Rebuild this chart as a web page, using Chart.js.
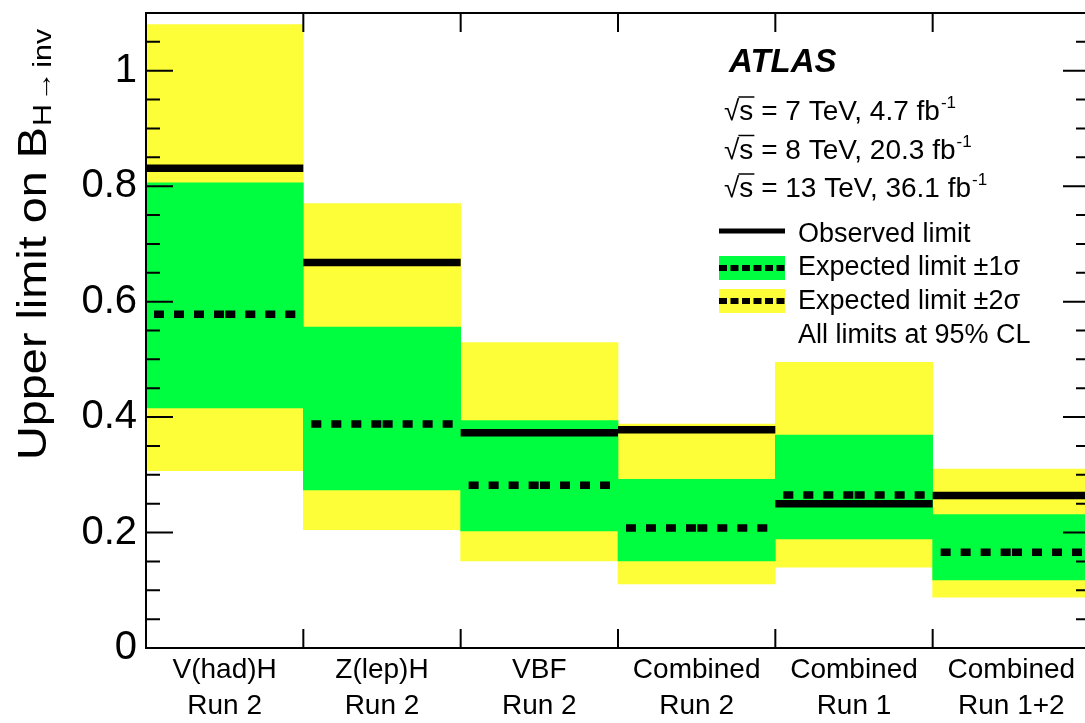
<!DOCTYPE html>
<html>
<head>
<meta charset="utf-8">
<script src="https://cdn.jsdelivr.net/npm/chart.js@4"></script>
<style>
  html, body { margin: 0; padding: 0; overflow: hidden; background: #fff; }
  #wrap { position: relative; width: 1100px; height: 723px; }
</style>
</head>
<body>
<div id="wrap"><canvas id="chart" width="1100" height="723"></canvas></div>
<script>
// values
const categories = [['V(had)H', 'Run 2'], ['Z(lep)H', 'Run 2'], ['VBF', 'Run 2'],
                    ['Combined', 'Run 2'], ['Combined', 'Run 1'], ['Combined', 'Run 1+2']];
const observed = [0.831, 0.668, 0.373, 0.378, 0.250, 0.264];
const expected = [0.578, 0.388, 0.282, 0.208, 0.265, 0.166];
const plus1 = [0.806, 0.556, 0.394, 0.292, 0.369, 0.231];
const minus1 = [0.416, 0.274, 0.203, 0.151, 0.189, 0.118];
const plus2 = [1.080, 0.770, 0.529, 0.388, 0.495, 0.310];
const minus2 = [0.307, 0.205, 0.151, 0.111, 0.140, 0.088];
const yTicks = [0, 0.2, 0.4, 0.6, 0.8, 1];
const energies = [['7', '4.7'], ['8', '20.3'], ['13', '36.1']];
const legendLabels = ['Observed limit', 'Expected limit \u00b11\u03c3', 'Expected limit \u00b12\u03c3', 'All limits at 95% CL'];

const YELLOW = '#fdfd38';
const GREEN = '#00fe40';
const FONT = '"Liberation Sans", Arial, Helvetica, sans-serif';

// horizontal segment per bin; halves drawn from the bin edges inwards so the dashes meet in the middle
function binSegments(vals, halves) {
  const pts = [];
  vals.forEach((v, i) => {
    if (halves) {
      pts.push({x: i, y: v}, {x: i + 0.5, y: v}, {x: i + 0.5, y: null});
      pts.push({x: i + 1, y: v}, {x: i + 0.5, y: v}, {x: i + 1, y: null});
    } else {
      pts.push({x: i, y: v}, {x: i + 1, y: v}, {x: i + 1, y: null});
    }
  });
  return pts;
}

const framePlugin = {
  id: 'frame',
  afterDatasetsDraw(chart) {
    const ctx = chart.ctx;
    const a = chart.chartArea;
    const y = chart.scales.y;
    const x2 = chart.scales.x2;
    ctx.save();
    ctx.strokeStyle = '#000';
    ctx.lineWidth = 2;
    ctx.strokeRect(a.left, a.top, a.right - a.left, a.bottom - a.top);

    // y ticks, left and right, pointing inwards
    for (let k = 1; k * 0.05 < y.max; k++) {
      const py = y.getPixelForValue(k * 0.05);
      const len = k % 4 === 0 ? 27 : 14;
      ctx.beginPath();
      ctx.moveTo(a.left, py); ctx.lineTo(a.left + len, py);
      ctx.moveTo(a.right, py); ctx.lineTo(a.right - len, py);
      ctx.stroke();
    }
    // x ticks at bin edges
    for (let i = 1; i < categories.length; i++) {
      const px = x2.getPixelForValue(i);
      ctx.beginPath();
      ctx.moveTo(px, a.top); ctx.lineTo(px, a.top + 19);
      ctx.moveTo(px, a.bottom); ctx.lineTo(px, a.bottom - 19);
      ctx.stroke();
    }

    // y axis title with subscript (text is a bit stretched along its length in the original)
    ctx.fillStyle = '#000';
    ctx.save();
    ctx.translate(46, 460);
    ctx.rotate(-Math.PI / 2);
    ctx.scale(1.17, 1);
    ctx.font = '40px ' + FONT;
    ctx.textBaseline = 'alphabetic';
    ctx.fillText('Upper limit on B', 0, 0);
    const w = ctx.measureText('Upper limit on B').width;
    ctx.font = '26px ' + FONT;
    ctx.fillText('H', w + 1, 5);
    const hw = ctx.measureText('H').width;
    ctx.fillText('\u2192', w + hw + 3, 5);
    const aw = ctx.measureText('\u2192').width;
    ctx.fillText('inv', w + hw + aw + 6, 5);
    ctx.restore();

    // ATLAS label and energies
    ctx.font = 'italic bold 33px ' + FONT;
    ctx.fillText('ATLAS', 729, 72);
    energies.forEach((e, i) => {
      const by = 120 + i * 38.5;
      ctx.font = '28px ' + FONT;
      ctx.fillText('\u221a', 724, by);
      const rw = ctx.measureText('\u221a').width;
      ctx.fillText('s', 724 + rw, by);
      const sw = ctx.measureText('s').width;
      ctx.lineWidth = 1.5;
      ctx.beginPath();
      ctx.moveTo(724 + rw - 1, by - 23); ctx.lineTo(724 + rw + sw + 1, by - 23);
      ctx.stroke();
      const txt = ' = ' + e[0] + ' TeV, ' + e[1] + ' fb';
      ctx.fillText(txt, 724 + rw + sw, by);
      const tw = ctx.measureText(txt).width;
      ctx.font = '17px ' + FONT;
      ctx.fillText('-1', 724 + rw + sw + tw + 1, by - 12);
    });

    // legend
    const lx = 719, lw = 66, tx = 798;
    const base = [242, 275, 309, 343];
    ctx.lineWidth = 5;
    ctx.beginPath(); ctx.moveTo(lx, 231); ctx.lineTo(lx + lw, 231); ctx.stroke();
    [[GREEN, 256], [YELLOW, 289]].forEach(([c, top]) => {
      ctx.fillStyle = c;
      ctx.fillRect(lx, top, lw, 24);
      ctx.setLineDash([8, 3.5]);
      ctx.lineWidth = 6;
      ctx.beginPath(); ctx.moveTo(lx, top + 12); ctx.lineTo(lx + lw, top + 12); ctx.stroke();
      ctx.setLineDash([]);
    });
    ctx.fillStyle = '#000';
    ctx.font = '27px ' + FONT;
    legendLabels.forEach((t, i) => ctx.fillText(t, tx, base[i]));
    ctx.restore();
  }
};

new Chart(document.getElementById('chart'), {
  data: {
    labels: categories,
    datasets: [
      {
        type: 'line', xAxisID: 'x2', order: 1,
        data: binSegments(observed, false),
        borderColor: '#000', borderWidth: 7.5, pointRadius: 0, tension: 0
      },
      {
        type: 'line', xAxisID: 'x2', order: 2,
        data: binSegments(expected, true),
        borderColor: '#000', borderWidth: 7.5, borderDash: [10, 10], borderDashOffset: 12,
        pointRadius: 0, tension: 0
      },
      {
        type: 'bar', xAxisID: 'x', order: 3, grouped: false,
        data: plus1.map((v, i) => [minus1[i], v]),
        backgroundColor: GREEN, borderWidth: 0, barPercentage: 1, categoryPercentage: 1
      },
      {
        type: 'bar', xAxisID: 'x', order: 4, grouped: false,
        data: plus2.map((v, i) => [minus2[i], v]),
        backgroundColor: YELLOW, borderWidth: 0, barPercentage: 1, categoryPercentage: 1
      }
    ]
  },
  options: {
    responsive: false,
    animation: false,
    layout: {padding: {top: 13, right: 10, left: 0, bottom: 0}},
    plugins: {legend: {display: false}, tooltip: {enabled: false}},
    scales: {
      x: {
        type: 'category', offset: true,
        grid: {display: false, drawTicks: false}, border: {display: false},
        ticks: {font: {family: FONT, size: 28, lineHeight: 1.3}, color: '#000', padding: 4,
                maxRotation: 0, autoSkip: false},
        afterFit(s) { s.height = 75; s.paddingLeft = 0; s.paddingRight = 0; }
      },
      x2: {type: 'linear', min: 0, max: categories.length, display: false},
      y: {
        type: 'linear', min: 0, max: 1.1,
        grid: {display: false, drawTicks: false}, border: {display: false},
        ticks: {font: {family: FONT, size: 40}, color: '#000', padding: 9,
                callback: v => String(+v.toFixed(1))},
        afterBuildTicks(s) { s.ticks = yTicks.map(v => ({value: v})); },
        afterFit(s) { s.width = 146; s.paddingTop = 0; s.paddingBottom = 0; }
      }
    }
  },
  plugins: [framePlugin]
});
</script>
</body>
</html>
